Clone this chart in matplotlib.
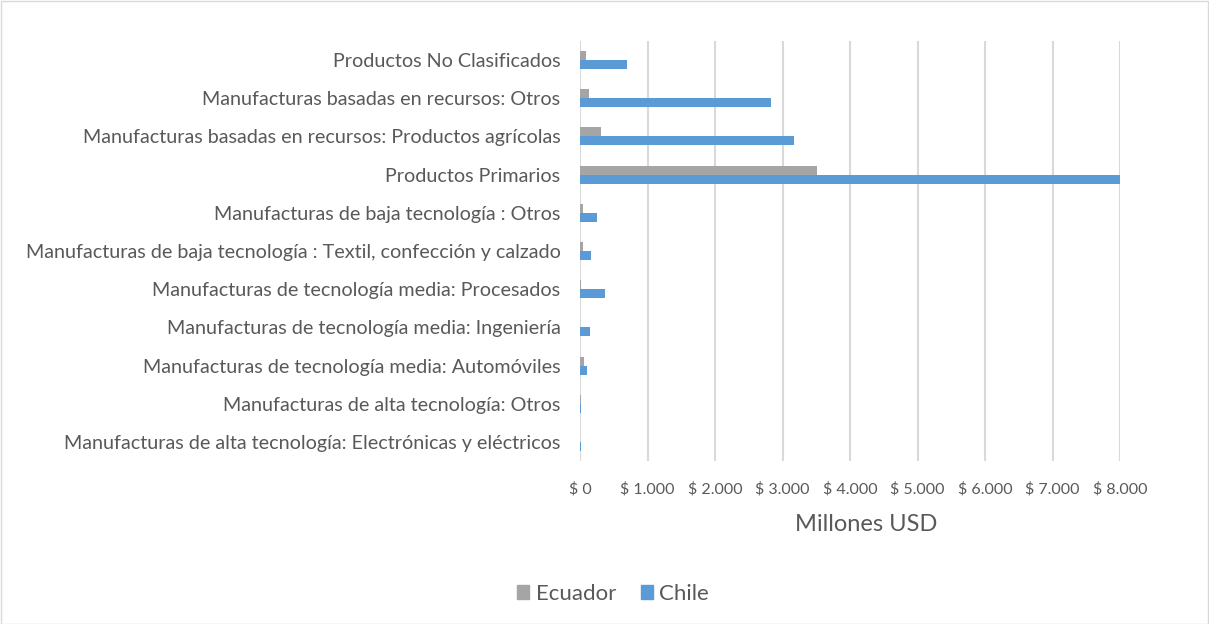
import matplotlib
matplotlib.use("Agg")
import matplotlib.pyplot as plt
from matplotlib.patches import Rectangle, Patch
from matplotlib.ticker import FuncFormatter

categories = [
    "Manufacturas de alta tecnología: Electrónicas y eléctricos",
    "Manufacturas de alta tecnología: Otros",
    "Manufacturas de tecnología media: Automóviles",
    "Manufacturas de tecnología media: Ingeniería",
    "Manufacturas de tecnología media: Procesados",
    "Manufacturas de baja tecnología : Textil, confección y calzado",
    "Manufacturas de baja tecnología : Otros",
    "Productos Primarios",
    "Manufacturas basadas en recursos: Productos agrícolas",
    "Manufacturas basadas en recursos: Otros",
    "Productos No Clasificados",
]
ecuador = [5, 20, 55, 5, 15, 45, 50, 3510, 305, 140, 83]
chile = [20, 20, 105, 150, 370, 160, 255, 8000, 3175, 2825, 700]
xticks = [0, 1000, 2000, 3000, 4000, 5000, 6000, 7000, 8000]

GRAY = "#a5a5a5"
BLUE = "#5b9bd5"
TXT = "#595959"
FONT = ["Lato", "DejaVu Sans"]
plt.rcParams["font.family"] = FONT

W, H = 1209, 624
fig = plt.figure(figsize=(W / 100, H / 100), dpi=100)
fig.patches.append(Rectangle((0.5 / W, 0.5 / H), 1 - 1.5 / W, 1 - 1.5 / H, transform=fig.transFigure,
                             fill=False, edgecolor="#d9d9d9", linewidth=1.0))

ax = fig.add_axes([580 / W, (H - 461) / H, 540 / W, 420 / H])
ys = list(range(len(categories)))
bh = 0.235
ax.barh([y + bh / 2 for y in ys], ecuador, height=bh, color=GRAY, zorder=3)
ax.barh([y - bh / 2 for y in ys], chile, height=bh, color=BLUE, zorder=3)

ax.set_xlim(0, 8000)
ax.set_ylim(-0.5, len(categories) - 0.5)
ax.set_xticks(xticks)
ax.xaxis.set_major_formatter(FuncFormatter(lambda v, p: "$ " + f"{int(v):,}".replace(",", ".")))
ax.set_yticks(ys)
ax.set_yticklabels(categories)
ax.grid(axis="x", color="#d9d9d9", linewidth=1.5, zorder=0)
for s in ax.spines.values():
    s.set_visible(False)
ax.tick_params(axis="both", length=0, colors=TXT)
ax.tick_params(axis="y", labelsize=14.2, pad=14)
ax.tick_params(axis="x", labelsize=11.5, pad=15)
ax.set_xlabel("Millones USD", fontsize=17, color=TXT)
ax.xaxis.set_label_coords(0.53, -0.127)

handles = [Patch(color=GRAY, label="Ecuador"), Patch(color=BLUE, label="Chile")]
leg = fig.legend(handles=handles, loc="center", bbox_to_anchor=(613 / W, 1 - 594 / H), ncol=2,
                 frameon=False, fontsize=16, handlelength=0.55, handleheight=0.55, handletextpad=0.3,
                 columnspacing=1.1)
for t in leg.get_texts():
    t.set_color(TXT)

fig.savefig("out.png", dpi=100)
